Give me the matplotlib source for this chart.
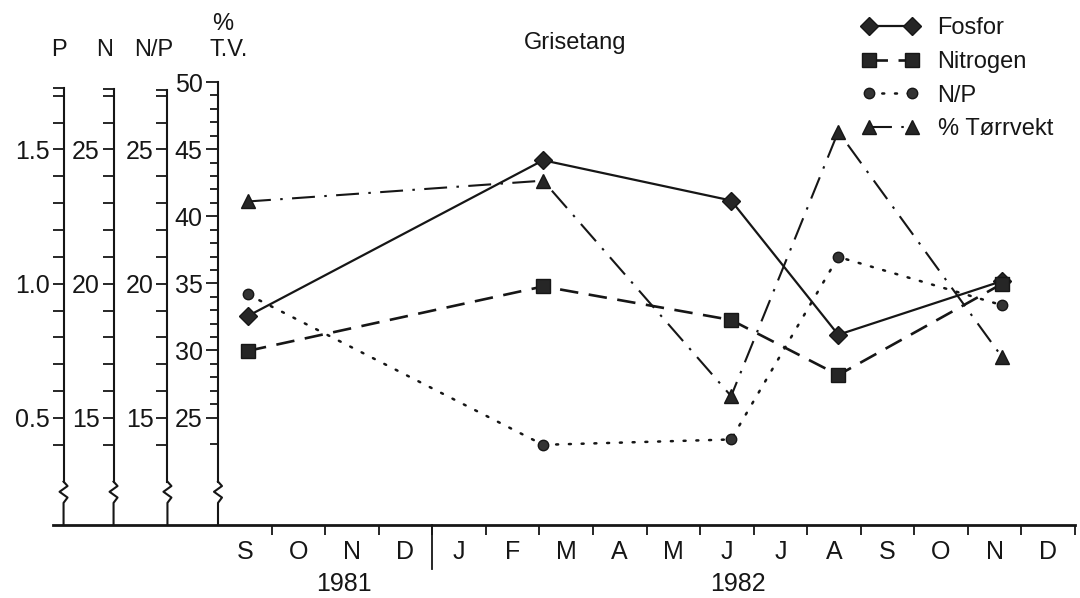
import matplotlib
matplotlib.use('Agg')
import matplotlib.pyplot as plt
import matplotlib.transforms as mtransforms
import numpy as np

plt.rcParams['font.family'] = ['Liberation Sans', 'DejaVu Sans']

# sampling times, in months counted from 1 Sep 1981
months = [0.56, 6.07, 9.58, 11.58, 14.64]
fosfor = [0.88, 1.46, 1.31, 0.81, 1.01]          # P
nitrogen = [17.5, 19.9, 18.65, 16.6, 20.0]       # N
n_p = [19.6, 14.0, 14.2, 21.0, 19.2]             # N/P
torrvekt = [41.1, 42.65, 26.6, 46.3, 29.5]       # % T.V.

month_labels = ['S', 'O', 'N', 'D', 'J', 'F', 'M', 'A', 'M', 'J', 'J', 'A', 'S', 'O', 'N', 'D']
year_labels = ['1981', '1982']
year_pos = [2.35, 9.7]

INK = '#161616'
W, H = 1080, 598

fig = plt.figure(figsize=(W / 100, H / 100), dpi=100)
ax = fig.add_axes([218 / W, 1 - 525 / H, 857 / W, 443 / H])   # % T.V. axis
ax_p = ax.twinx()
ax_n = ax.twinx()
ax_np = ax.twinx()

ax.set_xlim(0, 16)
ax.set_ylim(17.0, 50.0)
ax_p.set_ylim(0.1014, 1.7514)
ax_n.set_ylim(11.014, 27.514)
ax_np.set_ylim(11.014, 27.514)

# left spine offsets in points (outward from the T.V. axis)
offsets = {ax: 0, ax_np: 36.4, ax_n: 75.2, ax_p: 111.2}
tops = {ax: 50.0, ax_np: 27.2, ax_n: 27.25, ax_p: 1.73}

for a in (ax, ax_p, ax_n, ax_np):
    for s in ('top', 'right', 'bottom'):
        a.spines[s].set_visible(False)
    a.spines['left'].set_visible(True)
    a.spines['left'].set_position(('outward', offsets[a]))
    a.spines['left'].set_color(INK)
    a.spines['left'].set_linewidth(1.5)
    a.yaxis.tick_left()
    a.yaxis.set_label_position('left')
    a.tick_params(axis='y', which='both', direction='out', color=INK, width=1.3,
                  labelsize=18, labelcolor=INK, pad=2)
    lo, hi = a.get_ylim()
    zig_top = lo + 0.098 * (hi - lo)
    a.spines['left'].set_bounds(zig_top, tops[a])
    # broken-axis zigzag plus the short piece down to the baseline
    tr = mtransforms.blended_transform_factory(a.get_yaxis_transform(which='tick1'), a.transAxes)
    dx = 4 / 857
    a.plot([0, 0, dx, -dx, dx, 0], [0, 0.05, 0.062, 0.075, 0.088, 0.098],
           transform=tr, clip_on=False, color=INK, lw=1.5)

# tick layout of each scale
ax_p.set_yticks([0.5, 1.0, 1.5], ['0.5', '1.0', '1.5'])
ax_p.set_yticks(list(np.round(np.arange(0.4, 1.75, 0.1), 2)) + [1.73], minor=True)
for a, top in ((ax_n, 27.25), (ax_np, 27.2)):
    a.set_yticks([15, 20, 25], ['15', '20', '25'])
    a.set_yticks(list(range(14, 28)) + [top], minor=True)
for a in (ax_p, ax_n, ax_np):
    a.tick_params(axis='y', which='both', length=8)
ax.set_yticks([25, 30, 35, 40, 45, 50], ['25', '30', '35', '40', '45', '50'])
ax.set_yticks([23] + list(range(25, 51)), minor=True)
ax.tick_params(axis='y', which='major', length=9)
ax.tick_params(axis='y', which='minor', length=6)

# month axis
ax.set_xticks(range(1, 17))
ax.set_xticks(np.arange(0.5, 16, 1), month_labels, minor=True)
ax.tick_params(axis='x', which='major', direction='out', length=7, width=1.3,
               color=INK, labelbottom=False)
ax.tick_params(axis='x', which='minor', length=0, labelsize=18, labelcolor=INK, pad=11)
ax.plot([-0.1925, 1.0], [0, 0], transform=ax.transAxes, clip_on=False, color=INK, lw=2)
ax.plot([4, 4], [0, -0.1], transform=ax.get_xaxis_transform(), clip_on=False, color=INK, lw=1.3)
for lab, xp in zip(year_labels, year_pos):
    ax.text(xp, -0.105, lab, transform=ax.get_xaxis_transform(), ha='center', va='top',
            fontsize=18, color=INK)

# series
l1, = ax_p.plot(months, fosfor, color=INK, lw=1.6, marker='D', ms=9.5, mfc='#262626',
                mec=INK, label='Fosfor', clip_on=False)
l2, = ax_n.plot(months, nitrogen, color=INK, lw=1.9, ls=(0, (7, 4)), marker='s', ms=10,
                mfc='#262626', mec=INK, label='Nitrogen', clip_on=False)
l3, = ax_np.plot(months, n_p, color=INK, lw=1.8, ls=(0, (0.8, 4.3)), dash_capstyle='round',
                 marker='o', ms=7.5, mfc='#333333', mec=INK, label='N/P', clip_on=False)
l4, = ax.plot(months, torrvekt, color=INK, lw=1.5, ls=(0, (11, 4.5, 1.2, 4.5)), marker='^',
              ms=10.5, mfc='#262626', mec=INK, label='% Tørrvekt', clip_on=False)

fig.legend(handles=[l1, l2, l3, l4], loc='upper left', bbox_to_anchor=(862 / W, 1 - 17 / H),
           frameon=False, numpoints=2, fontsize=17, handlelength=2.4, handletextpad=0.8,
           borderpad=0, borderaxespad=0, labelspacing=0.5, labelcolor=INK)

# headers
fig.text(575 / W, 1 - 32 / H, 'Grisetang', ha='center', va='top', fontsize=17, color=INK)
for lab, xp in (('P', 59), ('N', 105), ('N/P', 154), ('T.V.', 229)):
    fig.text(xp / W, 1 - 50 / H, lab, ha='center', va='center', fontsize=17, color=INK)
fig.text(223 / W, 1 - 24 / H, '%', ha='center', va='center', fontsize=17, color=INK)

fig.savefig('out.png', dpi=100)
